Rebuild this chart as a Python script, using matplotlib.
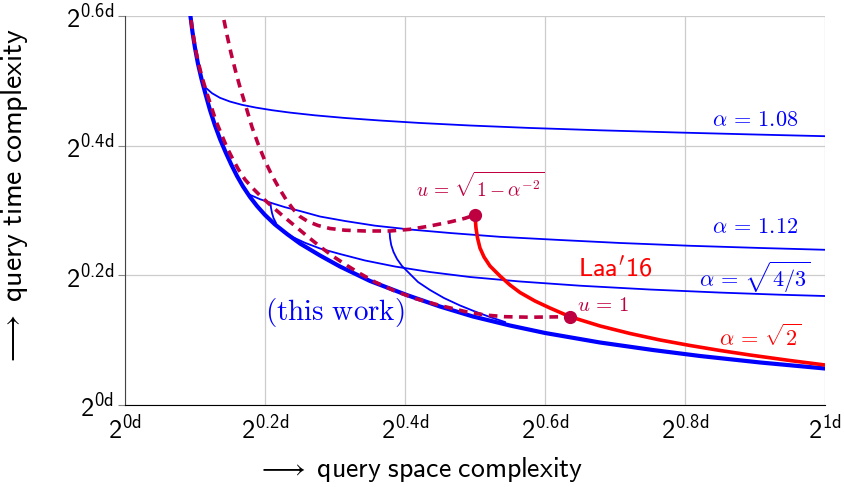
import matplotlib
matplotlib.use('Agg')
import matplotlib.pyplot as plt

# sans math (Computer Modern Sans) for ticks / axis labels, CM for the annotations
plt.rcParams['mathtext.fontset'] = 'custom'
plt.rcParams['mathtext.rm'] = 'cmss10'
plt.rcParams['mathtext.it'] = 'cmss10'
plt.rcParams['mathtext.sf'] = 'cmss10'
plt.rcParams['mathtext.bf'] = 'cmss10'
plt.rcParams['mathtext.fallback'] = 'cm'

# thick blue envelope (this work)
env_x = [0.0921, 0.0936, 0.0964, 0.1000, 0.1043, 0.1093, 0.1150, 0.1214, 0.1286, 0.1357,
         0.1436, 0.1521, 0.1600, 0.1686, 0.1786, 0.1886, 0.2000, 0.2143, 0.2314, 0.2500,
         0.2786, 0.3071, 0.3500, 0.4024, 0.4500, 0.4971, 0.5500, 0.6000, 0.6786, 0.7543,
         0.8214, 0.9071, 1.0000]
env_y = [0.6170, 0.5989, 0.5753, 0.5507, 0.5260, 0.5028, 0.4797, 0.4550, 0.4311, 0.4103,
         0.3902, 0.3702, 0.3532, 0.3370, 0.3208, 0.3069, 0.2931, 0.2784, 0.2638, 0.2491,
         0.2306, 0.2136, 0.1913, 0.1697, 0.1519, 0.1365, 0.1226, 0.1111, 0.0964, 0.0848,
         0.0756, 0.0656, 0.0563]

# thin blue curves
a108_x = [0.1157, 0.1243, 0.1357, 0.1500, 0.1671, 0.1871, 0.2100, 0.2357, 0.2714, 0.3143,
          0.3643, 0.4214, 0.4929, 0.5786, 0.6786, 0.7929, 0.8929, 1.0000]
a108_y = [0.4890, 0.4809, 0.4738, 0.4680, 0.4630, 0.4587, 0.4547, 0.4510, 0.4468, 0.4427,
          0.4388, 0.4350, 0.4311, 0.4273, 0.4237, 0.4202, 0.4174, 0.4146]

a112_x = [0.1743, 0.1929, 0.2100, 0.2286, 0.2500, 0.2786, 0.3143, 0.3571, 0.4071, 0.4643,
          0.5357, 0.6214, 0.7071, 0.8071, 0.9071, 1.0000]
a112_y = [0.3262, 0.3174, 0.3113, 0.3051, 0.2992, 0.2907, 0.2838, 0.2766, 0.2707, 0.2653,
          0.2594, 0.2545, 0.2499, 0.2456, 0.2422, 0.2394]

a112b_x = [0.2079, 0.2086, 0.2100, 0.2121, 0.2157]
a112b_y = [0.3108, 0.3039, 0.2962, 0.2885, 0.2807]

a43_x = [0.2257, 0.2400, 0.2571, 0.2786, 0.3071, 0.3429, 0.3857, 0.4357, 0.4929, 0.5643,
         0.6500, 0.7500, 0.8500, 0.9357, 1.0000]
a43_y = [0.2676, 0.2588, 0.2502, 0.2414, 0.2329, 0.2229, 0.2136, 0.2051, 0.1974, 0.1905,
         0.1840, 0.1781, 0.1734, 0.1701, 0.1681]

brn_x = [0.3779, 0.3786, 0.3803, 0.3836, 0.3886, 0.3957, 0.4057, 0.4186, 0.4357, 0.4557,
         0.4786, 0.5000, 0.5214, 0.5429]
brn_y = [0.2684, 0.2576, 0.2468, 0.2360, 0.2252, 0.2144, 0.2036, 0.1897, 0.1774, 0.1650,
         0.1535, 0.1442, 0.1357, 0.1280]

# Laa'16 (red)
laa_x = [0.5000, 0.5014, 0.5036, 0.5071, 0.5129, 0.5214, 0.5357, 0.5500, 0.5643, 0.5857,
         0.6071, 0.6357, 0.6786, 0.7214, 0.7643, 0.8071, 0.8500, 0.8929, 0.9500, 1.0000]
laa_y = [0.2931, 0.2730, 0.2576, 0.2422, 0.2283, 0.2144, 0.1990, 0.1851, 0.1735, 0.1604,
         0.1496, 0.1362, 0.1219, 0.1103, 0.1003, 0.0918, 0.0841, 0.0771, 0.0686, 0.0617]

# dashed purple curves
d1_x = [0.1379, 0.1404, 0.1457, 0.1514, 0.1579, 0.1650, 0.1729, 0.1814, 0.1907, 0.2000,
        0.2100, 0.2200, 0.2300, 0.2400, 0.2500, 0.2614, 0.2757, 0.2929, 0.3143, 0.3429,
        0.3786, 0.4071, 0.4357, 0.4643, 0.4857, 0.5000]
d1_y = [0.6170, 0.5989, 0.5707, 0.5429, 0.5152, 0.4874, 0.4597, 0.4288, 0.4010, 0.3764,
        0.3540, 0.3347, 0.3170, 0.3023, 0.2907, 0.2830, 0.2769, 0.2722, 0.2696, 0.2684,
        0.2684, 0.2710, 0.2761, 0.2823, 0.2880, 0.2931]

d2_x = [0.0921, 0.0936, 0.0967, 0.1004, 0.1049, 0.1100, 0.1160, 0.1229, 0.1300, 0.1379,
        0.1460, 0.1543, 0.1621, 0.1714, 0.1829, 0.1957, 0.2100, 0.2257, 0.2429, 0.2614,
        0.2800, 0.2986, 0.3171, 0.3357, 0.3571, 0.3857, 0.4143, 0.4500, 0.4857, 0.5143,
        0.5429, 0.5786, 0.6357]
d2_y = [0.6170, 0.5989, 0.5753, 0.5507, 0.5275, 0.5059, 0.4843, 0.4612, 0.4380, 0.4172,
        0.3964, 0.3787, 0.3632, 0.3478, 0.3339, 0.3201, 0.3062, 0.2915, 0.2761, 0.2594,
        0.2432, 0.2283, 0.2152, 0.2028, 0.1897, 0.1758, 0.1643, 0.1535, 0.1442, 0.1388,
        0.1362, 0.1354, 0.1362]

dots_x = [0.5000, 0.6357]
dots_y = [0.2931, 0.1362]

xticks = [0, 0.2, 0.4, 0.6, 0.8, 1.0]
xtick_labels = [r'$2^{0d}$', r'$2^{0.2d}$', r'$2^{0.4d}$', r'$2^{0.6d}$', r'$2^{0.8d}$', r'$2^{1d}$']
yticks = [0, 0.2, 0.4, 0.6]
ytick_labels = [r'$2^{0d}$', r'$2^{0.2d}$', r'$2^{0.4d}$', r'$2^{0.6d}$']

blue = '#0000ff'
red = '#ff0000'
purple = '#bf0040'
dash = (0, (2.4, 1.8))

fig = plt.figure(figsize=(8.44, 4.87), dpi=100)
ax = fig.add_axes([125 / 844, 82 / 487, 700 / 844, 389 / 487])

for xs, ys in [(a108_x, a108_y), (a112_x, a112_y), (a112b_x, a112b_y),
               (a43_x, a43_y), (brn_x, brn_y)]:
    ax.plot(xs, ys, color=blue, lw=1.3, zorder=3)
ax.plot(env_x, env_y, color=blue, lw=3.0, zorder=4)
ax.plot(laa_x, laa_y, color=red, lw=2.6, zorder=5)
ax.plot(d1_x, d1_y, color=purple, lw=2.6, ls=dash, zorder=6)
ax.plot(d2_x, d2_y, color=purple, lw=2.6, ls=dash, zorder=6)
ax.plot(dots_x, dots_y, 'o', color=purple, ms=8.5, zorder=7)

ax.set_xlim(0, 1)
ax.set_ylim(0, 0.6)
ax.set_xticks(xticks)
ax.set_xticklabels(xtick_labels, fontsize=19)
ax.set_yticks(yticks)
ax.set_yticklabels(ytick_labels, fontsize=19)
ax.tick_params(axis='x', length=0, pad=7)
ax.tick_params(axis='y', direction='out', length=5, color='#888888', pad=3)
ax.grid(True, color='#cccccc', lw=0.9)
ax.set_axisbelow(True)
for s in ['top', 'right']:
    ax.spines[s].set_visible(False)
ax.spines['left'].set_color('#444444')
ax.spines['bottom'].set_color('black')

ax.set_xlabel(r'$\longrightarrow\ \mathrm{query\ space\ complexity}$', fontsize=20)
ax.set_ylabel(r'$\longrightarrow\ \mathrm{query\ time\ complexity}$', fontsize=21.5)
ax.xaxis.set_label_coords(0.421, -0.128)
ax.yaxis.set_label_coords(-0.135, 0.535)

cm = dict(math_fontfamily='cm', ha='center', va='center')
ax.text(0.90, 0.44, r'$\alpha\,=\,1.08$', color=blue, fontsize=16, **cm)
ax.text(0.90, 0.274, r'$\alpha\,=\,1.12$', color=blue, fontsize=16, **cm)
ax.text(0.90, 0.197, r'$\alpha\,=\,\sqrt{4/3}$', color=blue, fontsize=16, **cm)
ax.text(0.907, 0.105, r'$\alpha\,=\,\sqrt{2}$', color=red, fontsize=16, **cm)
ax.text(0.683, 0.155, r'$u\,=\,1$', color=purple, fontsize=15, **cm)
ax.text(0.507, 0.338, r'$u\,=\,\sqrt{1-\alpha^{-2}}$', color=purple, fontsize=14, **cm)
ax.text(0.30, 0.142, r'$\mathrm{(this\ work)}$', color=blue, fontsize=21, **cm)
ax.text(0.70, 0.208, r"$\mathrm{Laa'16}$", color=red, fontsize=19, ha='center', va='center')

fig.savefig('out.png', dpi=100)
